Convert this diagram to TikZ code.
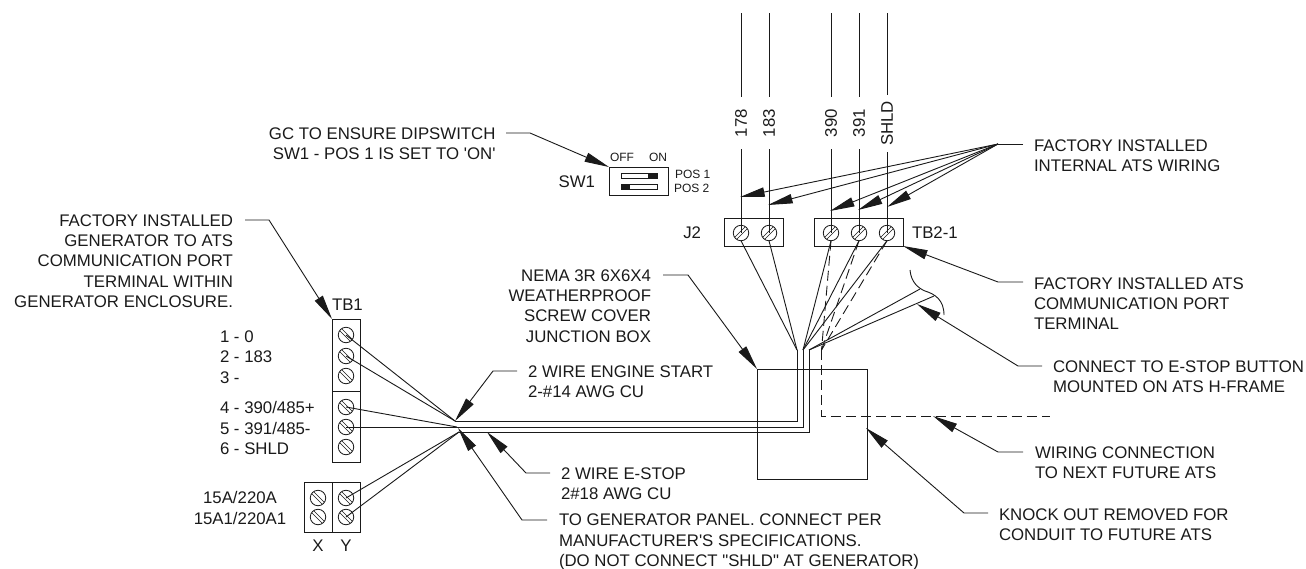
\documentclass[tikz,border=0pt]{standalone}
\usepackage{fontspec}
\setmainfont[Ligatures=TeXOff]{Liberation Sans}
\usetikzlibrary{arrows.meta}
\definecolor{ink}{HTML}{1A1A1A}
\tikzset{
  px/.style 2 args={rectangle,draw=ink,line width=.68pt,inner sep=0,outer sep=0,minimum width=#1*.75pt,minimum height=#2*.75pt},
  lbl/.style={font=\fontsize{12.6}{15.25}\selectfont,text=ink,inner sep=0,outer sep=0},
  lblsm/.style={font=\fontsize{9}{11}\selectfont,text=ink,inner sep=0,outer sep=0},
  screwbase/.style={circle,draw=ink,line width=.62pt,inner sep=0,outer sep=0,minimum size=11.6pt},
  screwback/.style={screwbase,path picture={\draw[ink,line width=.5pt,shift={(path picture bounding box.center)}] (-9,-7) -- (7,9) (-7,-9) -- (9,7);}},
  screwfwd/.style={screwbase,path picture={\draw[ink,line width=.5pt,shift={(path picture bounding box.center)}] (-9,7) -- (7,-9) (-7,9) -- (9,-7);}},
  wire/.style={draw=ink,line width=.68pt},
  dashwire/.style={draw=ink,line width=.68pt,dash pattern=on 7.5pt off 3.8pt},
  leader/.style={draw=ink,line width=.68pt,-{Triangle[length=18.5pt,width=7pt,fill=ink]}},
}
\begin{document}
\begin{tikzpicture}[x=.75pt,y=-.75pt]
\useasboundingbox (0,0) rectangle (1306,568);

% boxes
\node[px={59}{28}] (J2) at (753.5,232) {};
\node[px={89}{28}] (TB2) at (858.5,232) {};
\node[px={59}{28}] (SWB) at (638.5,181) {};
\node[px={28}{72}] (TB1a) at (346,355) {};
\node[px={28}{71}] (TB1b) at (346,426.5) {};
\node[px={28}{50}] (XB) at (318,507) {};
\node[px={28}{50}] (YB) at (346,507) {};
\node[px={110}{110}] (JB) at (812,424) {};

% dip switch
\node[px={36}{5}] (swa) at (639,175.5) {};
\node[px={36}{5},] (swb) at (639,186.5) {};
\node[rectangle,fill=ink,inner sep=0,minimum width=6.75pt,minimum height=3.75pt] (swan) at (652.5,175.5) {};
\node[rectangle,fill=ink,inner sep=0,minimum width=6.75pt,minimum height=3.75pt] (swbn) at (625.5,186.5) {};

% screws
\foreach \n/\x in {sa/741,sb/769,sc/831,sd/859,se/887}{\node[screwfwd] (\n) at (\x,233) {};}
\foreach \n/\y in {t1/335,t2/356,t3/376,t4/407,t5/427,t6/447}{\node[screwback] (\n) at (346,\y) {};}
\foreach \n/\y in {x1/498,x2/517}{\node[screwback] (\n) at (318,\y) {};}
\foreach \n/\y in {y1/498,y2/517}{\node[screwback] (\n) at (346,\y) {};}

% coordinates
\coordinate (n1) at (455,421);
\coordinate (n2) at (457,427);
\coordinate (n3) at (459,432);
\coordinate (c1) at (797,421);
\coordinate (c2) at (803,427);
\coordinate (c3) at (809,432);
\coordinate (u1) at (797,350);
\coordinate (u2) at (803,350);
\coordinate (u3) at (809,350);
\coordinate (u4) at (821.5,350);
\coordinate (d1) at (821.5,416);
\coordinate (d2) at (1050,416);
\coordinate (e1) at (920,289);
\coordinate (e2) at (934,296);

% top stubs
\foreach \n/\x in {178/741,183/769,390/831,391/859}{
  \coordinate (top\n) at (\x,13);\coordinate (mid\n) at (\x,97);\coordinate (low\n) at (\x,149);
  \draw[wire] (top\n) -- (mid\n) (low\n) -- (\x,233);
  \node[lbl,rotate=90] (lab\n) at (\x,123) {\n};}
\coordinate (topS) at (887,13);\coordinate (midS) at (887,95);\coordinate (lowS) at (887,152);
\draw[wire] (topS) -- (midS) (lowS) -- (se.center);
\node[lbl,rotate=90] (labS) at (887,123.5) {SHLD};

% wiring
\draw[wire] (n1) -- (c1) -- (u1);
\draw[wire] (n2) -- (c2) -- (u2);
\draw[wire] (n3) -- (c3) -- (u3);
\draw[wire] (t1.center) -- (n1);
\draw[wire] (t2.center) -- (n1);
\draw[wire] (t4.center) -- (n2);
\draw[wire] (t5.center) -- (n2);
\draw[wire] (y1.center) -- (n3);
\draw[wire] (y2.center) -- (n3);
\draw[wire] (sa.south) -- (u1);
\draw[wire] (sb.south) -- (u1);
\draw[wire] (sc.south) -- (u2);
\draw[wire] (sd.south) -- (u2);
\draw[wire] (se.south) -- (u2);
\draw[dashwire] (sc.south) -- (u4);
\draw[dashwire] (sd.south) -- (u4);
\draw[dashwire] (se.south) -- (u4);
\draw[wire] (u3) -- (e1);
\draw[wire] (u3) -- (e2);
\draw[wire] (910,270) .. controls (911,282) and (918,288) .. (925,291) .. controls (935,294) and (944,300) .. (944,315);
\draw[dashwire] (u4) -- (d1) -- (d2);

% leaders
\coordinate (fan) at (998,144);
\draw[wire] (1023,144) -- (fan);
\draw[leader] (fan) -- (740,197);
\draw[leader] (fan) -- (768,205);
\draw[leader] (fan) -- (830,211);
\draw[leader] (fan) -- (858,210);
\draw[leader] (fan) -- (887,207);
\draw[leader] (506,133) -- (530,133) -- (SWB.north west);
\draw[leader] (663,275) -- (688,275) -- (JB.north west);
\draw[leader] (1023,282) -- (998,282) -- (TB2.south east);
\draw[leader] (1042,366) -- (1018,366) -- (917,304);
\draw[leader] (1023,452) -- (998,452) -- (933,416);
\draw[leader] (988,513) -- (964,513) -- (866,428);
\draw[leader] (517,371) -- (493,371) -- (n1);
\draw[leader] (550,473) -- (526,473) -- (487,432);
\draw[leader] (547,520) -- (522,520) -- (458,428);
\draw[leader] (245,220) -- (269,220) -- (TB1a.north west);

% labels
\node[lbl,anchor=east,align=right] (tgc) at (495.5,144) {GC TO ENSURE DIPSWITCH\\SW1 - POS 1 IS SET TO 'ON'};
\node[lbl,anchor=west,align=left] (tfi) at (1034,156) {FACTORY INSTALLED\\INTERNAL ATS WIRING};
\node[lbl,anchor=west,align=left] (tfc) at (1034,303.5) {FACTORY INSTALLED ATS\\COMMUNICATION PORT\\TERMINAL};
\node[lbl,anchor=west,align=left] (tes) at (1053,377) {CONNECT TO E-STOP BUTTON\\MOUNTED ON ATS H-FRAME};
\node[lbl,anchor=west,align=left] (twc) at (1035,463) {WIRING CONNECTION\\TO NEXT FUTURE ATS};
\node[lbl,anchor=west,align=left] (tko) at (999,525) {KNOCK OUT REMOVED FOR\\CONDUIT TO FUTURE ATS};
\node[lbl,anchor=west,align=left] (tgp) at (559,542) {TO GENERATOR PANEL. CONNECT PER\\MANUFACTURER'S SPECIFICATIONS.\\(DO NOT CONNECT "SHLD" AT GENERATOR)};
\node[lbl,anchor=west,align=left] (tes2) at (561,484) {2 WIRE E-STOP\\2\#18 AWG CU};
\node[lbl,anchor=west,align=left] (tes1) at (528,382) {2 WIRE ENGINE START\\2-\#14 AWG CU};
\node[lbl,anchor=east,align=right] (tne) at (651,306) {NEMA 3R 6X6X4\\WEATHERPROOF\\SCREW COVER\\JUNCTION BOX};
\node[lbl,anchor=east,align=right] (tge) at (233,261) {FACTORY INSTALLED\\GENERATOR TO ATS\\COMMUNICATION PORT\\TERMINAL WITHIN\\GENERATOR ENCLOSURE.};
\node[lbl,anchor=west,align=left] (lst1) at (220,357) {1 - 0\\2 - 183\\3 -};
\node[lbl,anchor=west,align=left] (lst2) at (220,428) {4 - 390/485+\\5 - 391/485-\\6 - SHLD};
\node[lbl,anchor=center,align=center] (l15) at (240,508) {15A/220A\\15A1/220A1};
\node[lbl] (lx) at (318,546) {X};
\node[lbl] (ly) at (346,546) {Y};
\node[lbl,anchor=west] (ltb1) at (332,304.5) {TB1};
\node[lbl,anchor=east] (lj2) at (701,232.5) {J2};
\node[lbl,anchor=west] (ltb2) at (912,232.5) {TB2-1};
\node[lbl,anchor=east] (lsw) at (595,182) {SW1};
\node[lblsm,anchor=west] (loff) at (610,157) {OFF};
\node[lblsm,anchor=west] (lon) at (649,157) {ON};
\node[lblsm,anchor=west] (lp1) at (675,174) {POS 1};
\node[lblsm,anchor=west] (lp2) at (674,188.5) {POS 2};
\end{tikzpicture}
\end{document}
